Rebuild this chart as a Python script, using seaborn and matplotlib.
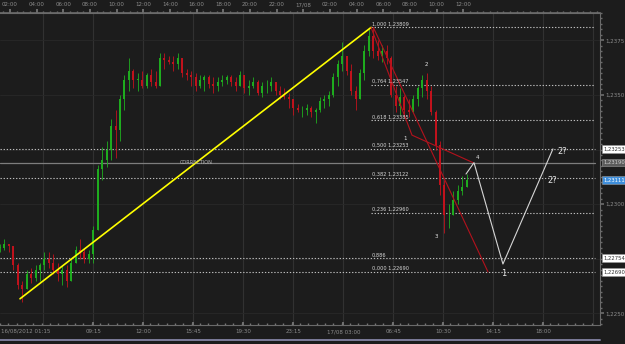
import numpy as np
import matplotlib
matplotlib.use("Agg")
import matplotlib.pyplot as plt
import matplotlib.transforms as mtransforms
from matplotlib.lines import Line2D
import seaborn as sns

# ---------------- data (EURUSD-like 20-minute bars, hours from 16/08 00:00) ----------------
bar_start_hour = 1.25
bar_step_hours = 1 / 3
first_open = 1.2280

highs = [
    1.2282, 1.2284, 1.2282, 1.2281, 1.2273, 1.2265, 1.2270, 1.2271, 1.2272, 1.2273,
    1.2278, 1.2278, 1.2277, 1.2273, 1.2272, 1.2272, 1.2275, 1.2281, 1.2284, 1.2280,
    1.2279, 1.2290, 1.2318, 1.2326, 1.2329, 1.2339, 1.2343, 1.2350, 1.2359, 1.2367,
    1.2362, 1.2360, 1.2361, 1.2360, 1.2362, 1.2361, 1.2369, 1.2369, 1.2368, 1.2368,
    1.2369, 1.2365, 1.2362, 1.2361, 1.2360, 1.2359, 1.2359, 1.2359, 1.2358, 1.2358,
    1.2359, 1.2359, 1.2359, 1.2358, 1.2361, 1.2359, 1.2357, 1.2358, 1.2357, 1.2356,
    1.2357, 1.2358, 1.2356, 1.2354, 1.2353, 1.2351, 1.2348, 1.2346, 1.2345, 1.2346,
    1.2345, 1.2344, 1.2349, 1.2350, 1.2352, 1.2360, 1.2366, 1.2374, 1.2368, 1.2364,
    1.2354, 1.2362, 1.2373, 1.2380, 1.23809, 1.2375, 1.2373, 1.2373, 1.2368, 1.2354,
    1.2353, 1.2350, 1.2348, 1.2350, 1.2354, 1.2359, 1.2360, 1.2354, 1.2343, 1.2329,
    1.2311, 1.2300, 1.2306, 1.2309, 1.2313, 1.2314,
]
lows = [
    1.2278, 1.2279, 1.2278, 1.2270, 1.2261, 1.2255, 1.2261, 1.2264, 1.2265, 1.2265,
    1.2270, 1.2271, 1.2268, 1.2265, 1.2263, 1.2262, 1.2268, 1.2273, 1.2275, 1.2273,
    1.2273, 1.2273, 1.2288, 1.2311, 1.2317, 1.2320, 1.2321, 1.2329, 1.2343, 1.2352,
    1.2353, 1.2352, 1.2353, 1.2353, 1.2354, 1.2353, 1.2354, 1.2362, 1.2364, 1.2361,
    1.2362, 1.2358, 1.2357, 1.2354, 1.2352, 1.2353, 1.2352, 1.2353, 1.2351, 1.2352,
    1.2354, 1.2355, 1.2354, 1.2352, 1.2354, 1.2351, 1.2350, 1.2353, 1.2350, 1.2349,
    1.2351, 1.2352, 1.2350, 1.2348, 1.2348, 1.2344, 1.2341, 1.2342, 1.2340, 1.2341,
    1.2340, 1.2337, 1.2342, 1.2344, 1.2345, 1.2349, 1.2354, 1.2361, 1.2359, 1.2350,
    1.2343, 1.2348, 1.2357, 1.2368, 1.2367, 1.2366, 1.2365, 1.2364, 1.2349, 1.2342,
    1.2341, 1.2340, 1.2340, 1.2342, 1.2345, 1.2349, 1.2348, 1.2341, 1.2325, 1.2304,
    1.2287, 1.2289, 1.2295, 1.2300, 1.2304, 1.2309,
]
closes = [
    1.2280, 1.2282, 1.2281, 1.2272, 1.2263, 1.2261, 1.2268, 1.2266, 1.2270, 1.2272,
    1.2275, 1.2273, 1.2270, 1.2268, 1.2270, 1.2265, 1.2273, 1.2279, 1.2278, 1.2275,
    1.2277, 1.2288, 1.2316, 1.2320, 1.2325, 1.2336, 1.2334, 1.2348, 1.2357, 1.2361,
    1.2357, 1.2357, 1.2354, 1.2359, 1.2356, 1.2354, 1.2367, 1.2366, 1.2365, 1.2364,
    1.2367, 1.2360, 1.2359, 1.2358, 1.2354, 1.2357, 1.2358, 1.2355, 1.2354, 1.2356,
    1.2357, 1.2358, 1.2356, 1.2354, 1.2359, 1.2353, 1.2354, 1.2356, 1.2351, 1.2354,
    1.2354, 1.2356, 1.2352, 1.2350, 1.2349, 1.2348, 1.2344, 1.2343, 1.2343, 1.2344,
    1.2342, 1.2343, 1.2347, 1.2348, 1.2350, 1.2358, 1.2364, 1.2368, 1.2361, 1.2352,
    1.2348, 1.2360, 1.2370, 1.2377, 1.2370, 1.2368, 1.2370, 1.2367, 1.2350, 1.2345,
    1.2349, 1.2343, 1.2342, 1.2348, 1.2353, 1.2357, 1.2352, 1.2342, 1.2327, 1.2309,
    1.2295, 1.2295, 1.2302, 1.2306, 1.2308, 1.23111,
]

fib_ratio_text = ["1,000", "0,764", "0,618", "0,500", "0,382", "0,236", "0,886", "0,000"]
fib_price_text = ["1,23809", "1,23547", "1,23385", "1,23253", "1,23122", "1,22960", "", "1,22690"]
fib_prices = [1.23809, 1.23547, 1.23385, 1.23253, 1.23122, 1.22960, 1.22754, 1.22690]
fib_full_width = [False, False, False, True, True, False, True, True]
fib_start_hour = 29.08

resistance_price = 1.23190
current_price = 1.23111

yellow_t = [2.75, 29.08]
yellow_p = [1.22567, 1.23809]
red1_t = [29.08, 32.15, 36.73]
red1_p = [1.23809, 1.23316, 1.23190]
red2_t = [29.25, 37.85]
red2_p = [1.23809, 1.22690]
proj_t = [36.2, 36.8, 38.97, 42.72]
proj_p = [1.23138, 1.23190, 1.22726, 1.23253]

wave_text = ["1", "2", "3", "4", "1", "2?", "2?"]
wave_t = [31.63, 33.2, 33.95, 37.03, 39.05, 43.4, 42.65]
wave_p = [1.23301, 1.23640, 1.22854, 1.23214, 1.22684, 1.23242, 1.23109]
wave_size = [4, 4, 4, 4, 6, 6, 6]

right_ticks = [1.2250, 1.2300, 1.2350, 1.2375]
right_tick_labels = ["1,2250", "1,2300", "1,2350", "1,2375"]

top_tick_hours = [2, 4, 6, 8, 10, 12, 14, 16, 18, 20, 22, 24, 26, 28, 30, 32, 34, 36]
top_tick_labels = ["02:00", "04:00", "06:00", "08:00", "10:00", "12:00", "14:00", "16:00",
                   "18:00", "20:00", "22:00", "17/08", "02:00", "04:00", "06:00", "08:00",
                   "10:00", "12:00"]
bottom_tick_hours = [8.25, 12, 15.75, 19.5, 23.25, 27, 30.75, 34.5, 38.25, 42]
bottom_tick_labels = ["09:15", "12:00", "15:45", "19:30", "23:15", "17/08 03:00",
                      "06:45", "10:30", "14:15", "18:00"]
grid_hours = [4.5, 8.25, 12, 15.75, 19.5, 23.25, 27, 30.75, 34.5, 38.25, 42, 45.75]

# ---------------- style ----------------
BG = "#1c1c1c"
sns.set_theme(style="dark", rc={"axes.facecolor": BG, "figure.facecolor": BG})
plt.rcParams["font.family"] = ["DejaVu Sans"]

fig = plt.figure(figsize=(6.25, 3.44), dpi=100, facecolor=BG)
ax = fig.add_axes([0, 19 / 344, 600 / 625, 312 / 344])
ax.set_facecolor(BG)
X0, X1 = 1.25, 46.25
ax.set_xlim(X0, X1)
ax.set_ylim(1.22447, 1.23873)

# grid
for g in grid_hours:
    ax.axvline(g, color="#313131", lw=0.8, zorder=0)
for hp in [1.2250, 1.2275, 1.2300, 1.2325, 1.2350, 1.2375]:
    ax.axhline(hp, color="#282828", lw=0.6, zorder=0)

# candles
n = len(closes)
times = bar_start_hour + np.arange(n) * bar_step_hours
opens = [first_open] + closes[:-1]
for t, o, h, l, c in zip(times, opens, highs, lows, closes):
    col = "#1fae1f" if c >= o else "#c3121c"
    hi = max(h, o, c)
    lo = min(l, o, c)
    ax.vlines(t, lo, hi, color=col, lw=0.6, zorder=3)
    b0, b1 = min(o, c), max(o, c)
    if b1 - b0 < 0.00002:
        b1 = b0 + 0.00002
    ax.vlines(t, b0, b1, color=col, lw=1.4, zorder=3)

# fib levels
xend = 45.9
for r, pt, p, full in zip(fib_ratio_text, fib_price_text, fib_prices, fib_full_width):
    xs = X0 if full else fib_start_hour
    ax.plot([xs, xend], [p, p], color="#bdbdbd", lw=0.8, ls=(0, (1.2, 1.6)), zorder=2)
    lab = f"{r} {pt}".strip()
    ax.text(fib_start_hour + 0.05, p + 0.00003, lab, color="#d8d8d8", fontsize=3.6,
            ha="left", va="bottom", zorder=6)

# resistance line and CORRECTION text
ax.plot([X0, xend], [resistance_price, resistance_price], color="#7d7d7d", lw=0.9, zorder=2)
ax.text(16.0, resistance_price, "CORRECTION", color="#b5b5b5", fontsize=3.6,
        ha="center", va="center", zorder=6)

# drawn lines
sns.lineplot(x=yellow_t, y=yellow_p, sort=False, estimator=None, color="#ffff00",
             lw=1.2, ax=ax, zorder=5)
sns.lineplot(x=red1_t, y=red1_p, sort=False, estimator=None, color="#b3121c",
             lw=0.8, ax=ax, zorder=5)
sns.lineplot(x=red2_t, y=red2_p, sort=False, estimator=None, color="#b3121c",
             lw=0.8, ax=ax, zorder=5)
sns.lineplot(x=proj_t, y=proj_p, sort=False, estimator=None, color="#d6d6d6",
             lw=0.8, ax=ax, zorder=5)

for s, t, p, fs in zip(wave_text, wave_t, wave_p, wave_size):
    ax.text(t, p, s, color="#e6e6e6", fontsize=fs, ha="center", va="center", zorder=7)

# axes spines / ticks
ax.spines["left"].set_visible(False)
for side in ["top", "bottom", "right"]:
    ax.spines[side].set_visible(True)
    ax.spines[side].set_color("#6a6a6a")
    ax.spines[side].set_linewidth(0.8)

ax.yaxis.tick_right()
ax.set_yticks(right_ticks)
ax.set_yticklabels(right_tick_labels)
ax.set_yticks(np.arange(1.2245, 1.2388, 0.00025), minor=True)
ax.tick_params(axis="y", which="major", direction="out", length=3, color="#6a6a6a",
               labelsize=4, labelcolor="#8c8c8c", pad=1)
ax.tick_params(axis="y", which="minor", direction="out", length=1.5, color="#6a6a6a", right=True)

ax.set_xticks(bottom_tick_hours)
ax.set_xticklabels(bottom_tick_labels)
ax.set_xticks(np.arange(X0, X1, 0.625), minor=True)
ax.tick_params(axis="x", which="major", direction="in", length=2.5, color="#777777",
               labelsize=4, labelcolor="#8c8c8c", pad=3, bottom=True)
ax.tick_params(axis="x", which="minor", direction="in", length=1.5, color="#777777", bottom=True)
ax.text(X0 + 0.05, -0.012, "16/08/2012 01:15",
        transform=mtransforms.blended_transform_factory(ax.transData, ax.transAxes),
        color="#8c8c8c", fontsize=4, ha="left", va="top")
ax.grid(False)

sec = ax.secondary_xaxis("top")
sec.set_xticks(top_tick_hours)
sec.set_xticklabels(top_tick_labels)
sec.set_xticks(np.arange(1.5, X1, 0.5), minor=True)
sec.tick_params(axis="x", which="major", direction="out", length=3, color="#777777",
                labelsize=4, labelcolor="#8c8c8c", pad=1)
sec.tick_params(axis="x", which="minor", direction="out", length=1.5, color="#777777")
sec.spines["top"].set_color("#6a6a6a")

# right-hand price boxes
trans = mtransforms.blended_transform_factory(ax.transAxes, ax.transData)
boxes = [
    (1.23253, "1,23253", "#ffffff", "#303030"),
    (resistance_price, "1,23190", "#5c5c5c", "#d0d0d0"),
    (current_price, "1,23111", "#3f8fdc", "#ffffff"),
    (1.22754, "1,22754", "#ffffff", "#303030"),
    (1.22690, "1,22690", "#ffffff", "#303030"),
]
for p, s, fc, tc in boxes:
    ax.text(1.005, p, s, transform=trans, color=tc, fontsize=3.8, ha="left", va="center",
            bbox=dict(boxstyle="square,pad=0.25", fc=fc, ec="#9a9a9a", lw=0.4),
            clip_on=False, zorder=10)

# bottom scroll bar
fig.add_artist(Line2D([0, 600 / 625], [4 / 344, 4 / 344], color="#7c7c9a", lw=1.4))

fig.savefig("out.png", dpi=100, facecolor=BG)
